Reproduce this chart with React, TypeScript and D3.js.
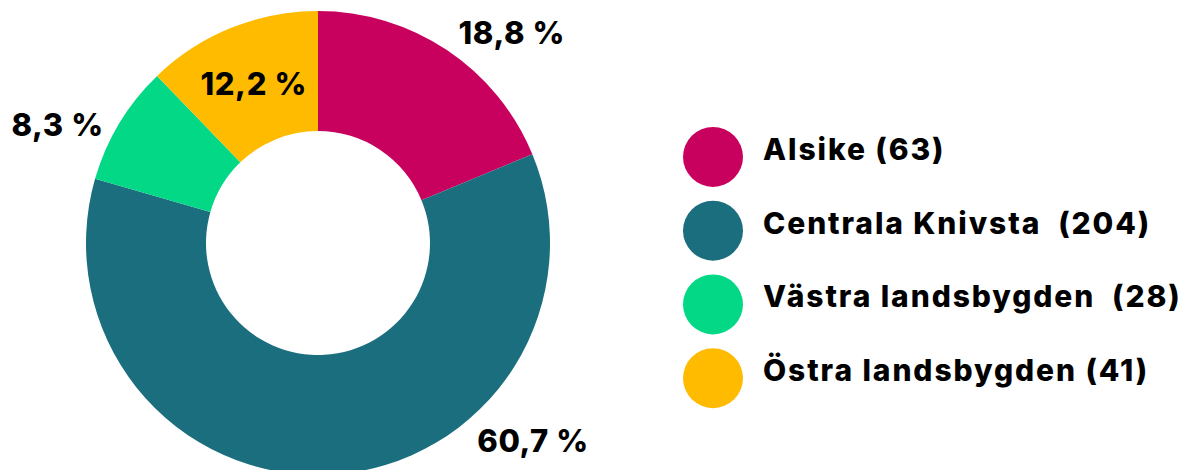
import React, { useEffect, useRef } from 'react';
import * as d3 from 'd3';

// Areas and number of answers
const areas = ['Alsike', 'Centrala Knivsta', 'Västra landsbygden', 'Östra landsbygden'];
const counts = [63, 204, 28, 41];
const legendLabels = ['Alsike (63)', 'Centrala Knivsta  (204)', 'Västra landsbygden  (28)', 'Östra landsbygden (41)'];
const percentLabels = ['18,8 %', '60,7 %', '8,3 %', '12,2 %'];
const colors = ['#C8005E', '#1B6E7E', '#02D886', '#FFBB00'];

// where along each slice the % label sits, and how far out (0 = inside, at centroid)
const labelFrac = [0.5, 0.337, 0.43, 0.5];
const labelRad = [253, 254, 245, 0];

function App() {
    const svgRef = useRef<SVGSVGElement>(null);

    useEffect(() => {
        document.body.style.margin = '0';

        const width = 1186;
        const height = 470;
        const cx = 318;
        const cy = 243;
        const outerR = 232;
        const innerR = 112;
        const font = 'Inter, "Noto Sans", sans-serif';

        const svg = d3.select(svgRef.current)
            .attr('width', width)
            .attr('height', height);
        svg.selectAll('*').remove();

        const data = areas.map((name, i) => ({ name, value: counts[i], i }));

        const pie = d3.pie<any>().sort(null).value(d => d.value);
        const arcs = pie(data);

        const arc = d3.arc<any>().innerRadius(innerR).outerRadius(outerR);

        const g = svg.append('g').attr('transform', `translate(${cx},${cy})`);

        g.selectAll('path')
            .data(arcs)
            .enter()
            .append('path')
            .attr('d', arc)
            .attr('fill', d => colors[d.data.i]);

        // Percent labels
        arcs.forEach(a => {
            const i = a.data.i;
            let x: number, y: number, anchor: string;
            if (labelRad[i] === 0) {
                [x, y] = arc.centroid(a);
                anchor = 'middle';
            } else {
                const ang = a.startAngle + (a.endAngle - a.startAngle) * labelFrac[i];
                x = Math.sin(ang) * labelRad[i];
                y = -Math.cos(ang) * labelRad[i];
                anchor = x > 0 ? 'start' : 'end';
            }
            g.append('text')
                .attr('x', x)
                .attr('y', y)
                .attr('text-anchor', anchor)
                .attr('dominant-baseline', 'central')
                .attr('font-family', font)
                .attr('font-weight', 800)
                .attr('font-size', 31)
                .attr('letter-spacing', 0.6)
                .attr('fill', '#000')
                .style('white-space', 'pre')
                .text(percentLabels[i]);
        });

        // Legend
        const yScale = d3.scaleBand()
            .domain(areas)
            .range([120, 415]);

        const legend = svg.append('g');
        legend.selectAll('circle')
            .data(areas)
            .enter()
            .append('circle')
            .attr('cx', 713)
            .attr('cy', d => yScale(d)! + yScale.bandwidth() / 2)
            .attr('r', 30)
            .attr('fill', (d, i) => colors[i]);

        // text sits a little above the circle centre
        legend.selectAll('text')
            .data(areas)
            .enter()
            .append('text')
            .attr('x', 763)
            .attr('y', d => yScale(d)! + yScale.bandwidth() / 2 - 8)
            .attr('dominant-baseline', 'central')
            .attr('font-family', font)
            .attr('font-weight', 800)
            .attr('font-size', 30)
            .attr('letter-spacing', 1.9)
            .attr('fill', '#000')
            .style('white-space', 'pre')
            .text((d, i) => legendLabels[i]);
    }, []);

    return <svg ref={svgRef} style={{ display: 'block' }}></svg>;
}

export default App;
